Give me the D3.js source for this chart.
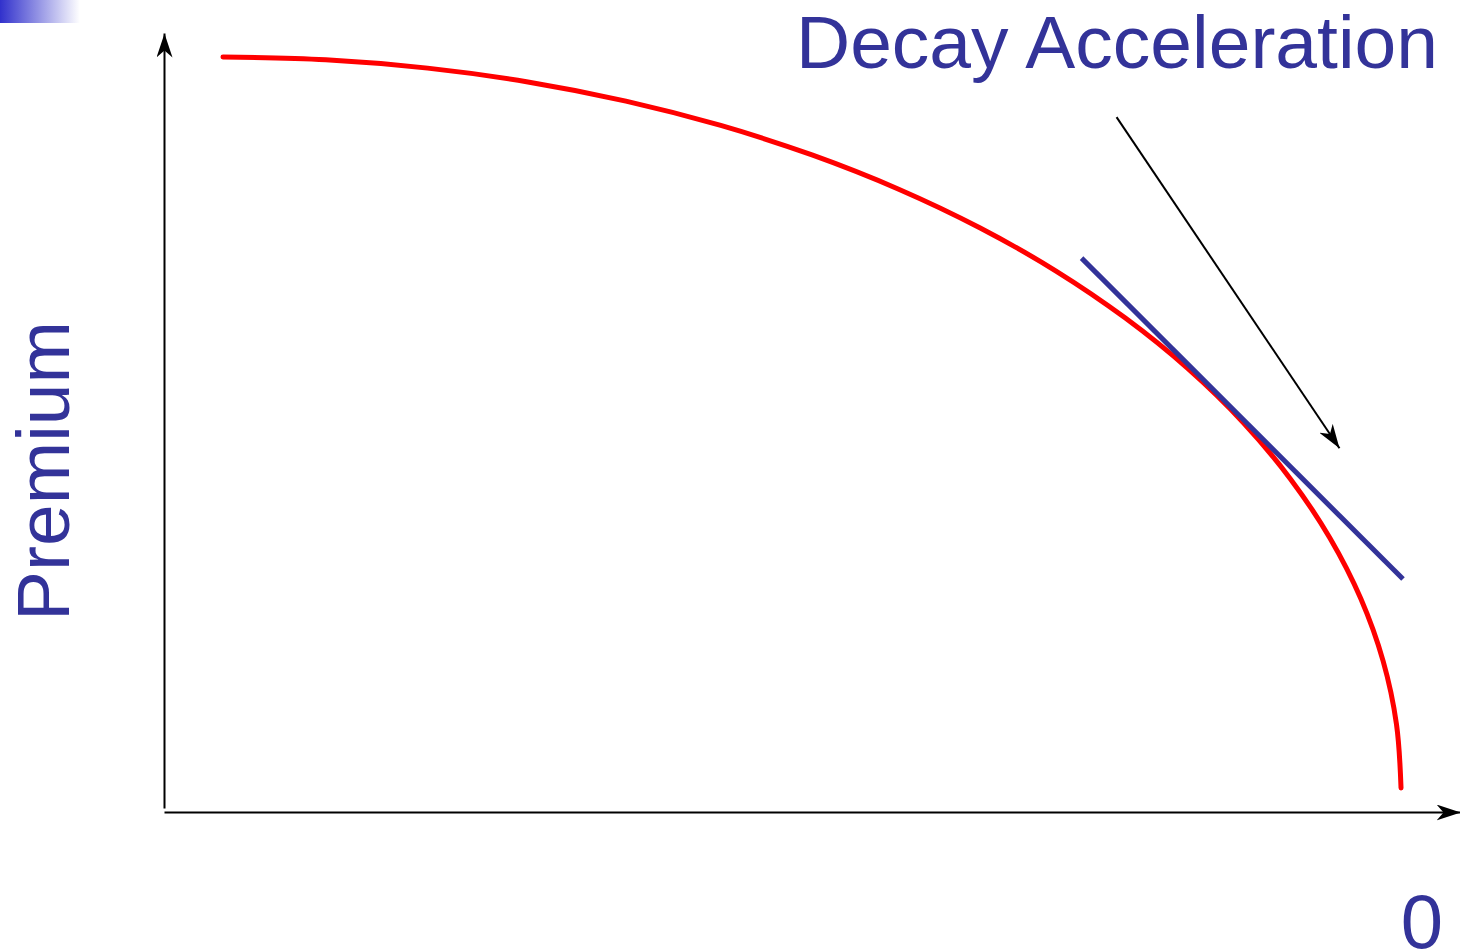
<!DOCTYPE html>
<html>
<head>
<meta charset="utf-8">
<script src="https://cdn.jsdelivr.net/npm/d3@7"></script>
<style>
  html, body { margin: 0; padding: 0; background: #ffffff; }
  svg { display: block; }
  text { font-family: "Liberation Sans", Arial, sans-serif; }
</style>
</head>
<body>
<svg id="chart" width="1460" height="952"></svg>
<script>
// ---- Data (time axis 0..100, premium axis 0..100) ----
const timeValues    = [4.55, 12.48, 20.34, 28.08, 35.64, 42.96, 50.00, 56.69, 62.98, 68.83, 74.18, 79.01, 83.27, 86.93, 89.96, 92.35, 94.07, 95.10, 95.45];
const premiumValues = [96.92, 96.56, 95.49, 93.72, 91.26, 88.13, 84.35, 79.95, 74.97, 69.44, 63.40, 56.91, 50.00, 42.73, 35.17, 27.37, 19.37, 11.26, 3.08];
const tangentTime    = [70.8, 95.6];
const tangentPremium = [71.1, 29.9];
const pointerTime    = [73.5, 90.7];
const pointerPremium = [89.2, 46.7];
const titleText  = "Decay Acceleration";
const yLabelText = "Premium";
const xTickLabels = ["0"];

// ---- Setup ----
const svg = d3.select("#chart");
const x = d3.scaleLinear().domain([0, 100]).range([164, 1460]);
const y = d3.scaleLinear().domain([0, 100]).range([812, 33]);

const defs = svg.append("defs");
const grad = defs.append("linearGradient").attr("id", "cornerGrad")
  .attr("x1", "0%").attr("x2", "100%").attr("y1", "0%").attr("y2", "0%");
grad.append("stop").attr("offset", "0%").attr("stop-color", "#3131cc");
grad.append("stop").attr("offset", "100%").attr("stop-color", "#ffffff");

function addMarker(id, len, half, notch) {
  defs.append("marker").attr("id", id)
    .attr("markerUnits", "userSpaceOnUse")
    .attr("viewBox", `0 ${-half} ${len} ${2 * half}`)
    .attr("refX", len).attr("refY", 0)
    .attr("markerWidth", len).attr("markerHeight", 2 * half)
    .attr("orient", "auto")
    .append("path")
    .attr("d", `M0,${-half} L${len},0 L0,${half} L${notch},0 Z`)
    .attr("fill", "#000");
}
addMarker("axisArrow", 24, 8, 7);
addMarker("ptrArrow", 24, 8, 7);

// corner gradient decoration
svg.append("rect").attr("x", 0).attr("y", 0).attr("width", 80).attr("height", 23)
  .attr("fill", "url(#cornerGrad)");

// ---- Axes (no ticks, arrowheads) ----
const xAxis = d3.axisBottom(x).tickValues([]).tickSizeOuter(0);
const gx = svg.append("g").attr("transform", `translate(0,${y(0)})`).call(xAxis);
gx.select(".domain").attr("stroke", "#000").attr("stroke-width", 2)
  .attr("marker-end", "url(#axisArrow)");

const yAxisScale = y.copy().range([808, 33]);
const yAxis = d3.axisLeft(yAxisScale).tickValues([]).tickSizeOuter(0);
const gy = svg.append("g").attr("transform", `translate(${x(0)},0)`).call(yAxis);
gy.select(".domain").attr("stroke", "#000").attr("stroke-width", 2)
  .attr("marker-end", "url(#axisArrow)");

// ---- Premium curve ----
const pts = timeValues.map((t, i) => [t, premiumValues[i]]);
const line = d3.line().x(d => x(d[0])).y(d => y(d[1])).curve(d3.curveCatmullRom.alpha(0.5));
svg.append("path").datum(pts).attr("d", line)
  .attr("fill", "none").attr("stroke", "#ff0000").attr("stroke-width", 5)
  .attr("stroke-linecap", "round");

// ---- Tangent line ----
const tan = tangentTime.map((t, i) => [t, tangentPremium[i]]);
svg.append("path").datum(tan).attr("d", d3.line().x(d => x(d[0])).y(d => y(d[1])))
  .attr("fill", "none").attr("stroke", "#333399").attr("stroke-width", 5);

// ---- Pointer arrow ----
const ptr = pointerTime.map((t, i) => [t, pointerPremium[i]]);
svg.append("path").datum(ptr).attr("d", d3.line().x(d => x(d[0])).y(d => y(d[1])))
  .attr("fill", "none").attr("stroke", "#000").attr("stroke-width", 2)
  .attr("marker-end", "url(#ptrArrow)");

// ---- Texts ----
svg.append("text").attr("x", 1438).attr("y", 68)
  .attr("text-anchor", "end").attr("font-size", 75).attr("fill", "#333399")
  .text(titleText);

svg.append("text").attr("transform", "translate(69,471) rotate(-90)")
  .attr("text-anchor", "middle").attr("font-size", 75).attr("fill", "#333399")
  .text(yLabelText);

svg.selectAll(".xlab").data(xTickLabels).enter().append("text")
  .attr("class", "xlab").attr("x", 1443).attr("y", 948)
  .attr("text-anchor", "end").attr("font-size", 76).attr("fill", "#333399")
  .text(d => d);
</script>
</body>
</html>
